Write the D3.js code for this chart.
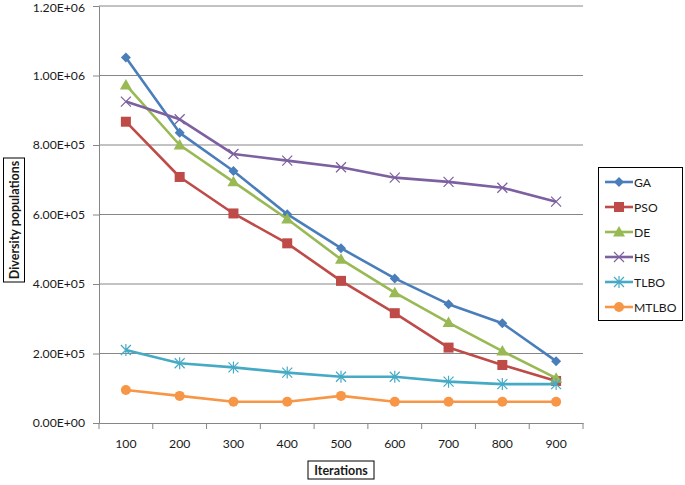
<!DOCTYPE html>
<html><head><meta charset="utf-8">
<script src="https://cdn.jsdelivr.net/npm/d3@7"></script>
<style>body{margin:0;background:#fff}svg{display:block}</style>
</head><body><svg id="c" width="685" height="485"></svg>
<script>
const categories = ["100","200","300","400","500","600","700","800","900"];
const GA    = [1052000, 835000, 725000, 601000, 503000, 416000, 342000, 287000, 178000];
const PSO   = [867000, 708000, 603000, 517000, 409000, 316000, 217000, 167000, 121000];
const DE    = [973000, 800000, 694000, 587000, 471000, 375000, 289000, 207000, 129000];
const HS    = [925000, 874000, 774000, 755000, 736000, 706000, 694000, 677000, 637000];
const TLBO  = [210000, 172000, 160000, 145000, 133000, 133000, 119000, 112000, 112000];
const MTLBO = [95000, 78000, 61000, 61000, 78000, 61000, 61000, 61000, 61000];
const yTicks = [0, 200000, 400000, 600000, 800000, 1000000, 1200000];
const yTickLabels = ["0.00E+00","2.00E+05","4.00E+05","6.00E+05","8.00E+05","1.00E+06","1.20E+06"];

const series = [
  {name:"GA", values:GA, color:"#4A7EBB", marker:"diamond"},
  {name:"PSO", values:PSO, color:"#BE4B48", marker:"square"},
  {name:"DE", values:DE, color:"#98B954", marker:"triangle"},
  {name:"HS", values:HS, color:"#7D60A0", marker:"x"},
  {name:"TLBO", values:TLBO, color:"#46AAC5", marker:"star"},
  {name:"MTLBO", values:MTLBO, color:"#F79646", marker:"circle"}
];

const svg = d3.select("#c");
const font = "Lato, 'Open Sans', sans-serif";
const pLeft = 99, pRight = 583, pTop = 6, pBottom = 423;
const x = d3.scaleBand().domain(categories).range([pLeft, pRight]);
const y = d3.scaleLinear().domain([0, 1200000]).range([pBottom, pTop]);
const axisColor = "#868686";
const textColor = "#1a1a1a";

// gridlines
svg.append("g").selectAll("line").data(yTicks.slice(1)).join("line")
  .attr("x1", pLeft).attr("x2", pRight)
  .attr("y1", d => y(d)).attr("y2", d => y(d))
  .attr("stroke", axisColor).attr("stroke-width", 1);

// y axis
const yAxis = d3.axisLeft(y).tickValues(yTicks).tickSize(6).tickPadding(8)
  .tickFormat((d,i) => yTickLabels[i]);
const gy = svg.append("g").attr("transform", `translate(${pLeft},0)`).call(yAxis);
gy.selectAll("path,line").attr("stroke", axisColor);
gy.selectAll("text").attr("font-family", font).attr("font-size", 12.2).attr("fill", textColor);
gy.selectAll(".tick text").filter(d => d === 1200000).attr("y", 1.5);

// x axis
const gx = svg.append("g").attr("transform", `translate(0,${pBottom})`)
  .call(d3.axisBottom(x).tickSize(0).tickPadding(16));
gx.select("path").attr("stroke", axisColor);
gx.selectAll("text").attr("font-family", font).attr("font-size", 12.2).attr("fill", textColor);
const bounds = categories.map(c => x(c)).concat([x(categories[categories.length-1]) + x.bandwidth()]);
svg.append("g").selectAll("line").data(bounds).join("line")
  .attr("x1", d => d).attr("x2", d => d).attr("y1", pBottom).attr("y2", pBottom + 6)
  .attr("stroke", axisColor);

const cx = c => x(c) + x.bandwidth()/2;

function drawMarker(g, type, color, px, py) {
  if (type === "diamond") {
    g.append("path").attr("d", `M${px},${py-5}L${px+5},${py}L${px},${py+5}L${px-5},${py}Z`).attr("fill", color);
  } else if (type === "square") {
    g.append("rect").attr("x", px-5).attr("y", py-5).attr("width", 10).attr("height", 10).attr("fill", color);
  } else if (type === "triangle") {
    g.append("path").attr("d", `M${px},${py-6}L${px+6},${py+4.5}L${px-6},${py+4.5}Z`).attr("fill", color);
  } else if (type === "x") {
    g.append("path").attr("d", `M${px-5},${py-5}L${px+5},${py+5}M${px-5},${py+5}L${px+5},${py-5}`)
      .attr("stroke", color).attr("stroke-width", 1.2).attr("fill", "none");
  } else if (type === "star") {
    g.append("path").attr("d", `M${px-5},${py-5}L${px+5},${py+5}M${px-5},${py+5}L${px+5},${py-5}M${px},${py-6}L${px},${py+6}`)
      .attr("stroke", color).attr("stroke-width", 1.2).attr("fill", "none");
  } else if (type === "circle") {
    g.append("circle").attr("cx", px).attr("cy", py).attr("r", 5).attr("fill", color);
  }
}

const line = d3.line().x((d,i) => cx(categories[i])).y(d => y(d));
series.forEach(s => {
  const g = svg.append("g");
  g.append("path").attr("d", line(s.values)).attr("fill", "none")
    .attr("stroke", s.color).attr("stroke-width", 2.6).attr("stroke-linejoin", "round");
  s.values.forEach((v,i) => drawMarker(g, s.marker, s.color, cx(categories[i]), y(v)));
});

// legend
const lg = svg.append("g");
lg.append("rect").attr("x", 598.5).attr("y", 167.5).attr("width", 84).attr("height", 153)
  .attr("fill", "#fff").attr("stroke", "#000").attr("stroke-width", 1);
series.forEach((s,i) => {
  const ly = 182 + i*25;
  lg.append("line").attr("x1", 605).attr("x2", 633).attr("y1", ly).attr("y2", ly)
    .attr("stroke", s.color).attr("stroke-width", 2.6);
  drawMarker(lg, s.marker, s.color, 619, ly);
  lg.append("text").attr("x", 634).attr("y", ly + 4.5).text(s.name)
    .attr("font-family", font).attr("font-size", 12.2).attr("fill", textColor);
});

// axis titles
const yt = svg.append("g").attr("transform", "translate(14,220) rotate(-90)");
yt.append("rect").attr("x", -62).attr("y", -10.5).attr("width", 124).attr("height", 21)
  .attr("fill", "#fff").attr("stroke", "#000");
yt.append("text").attr("text-anchor", "middle").attr("y", 4.5).text("Diversity populations")
  .attr("font-family", font).attr("font-size", 12.5).attr("font-weight", "bold").attr("fill", textColor);

const xt = svg.append("g").attr("transform", "translate(341,470)");
xt.append("rect").attr("x", -33).attr("y", -9).attr("width", 66).attr("height", 18)
  .attr("fill", "#fff").attr("stroke", "#000");
xt.append("text").attr("text-anchor", "middle").attr("y", 4.5).text("Iterations")
  .attr("font-family", font).attr("font-size", 12.5).attr("font-weight", "bold").attr("fill", textColor);
</script></body></html>
